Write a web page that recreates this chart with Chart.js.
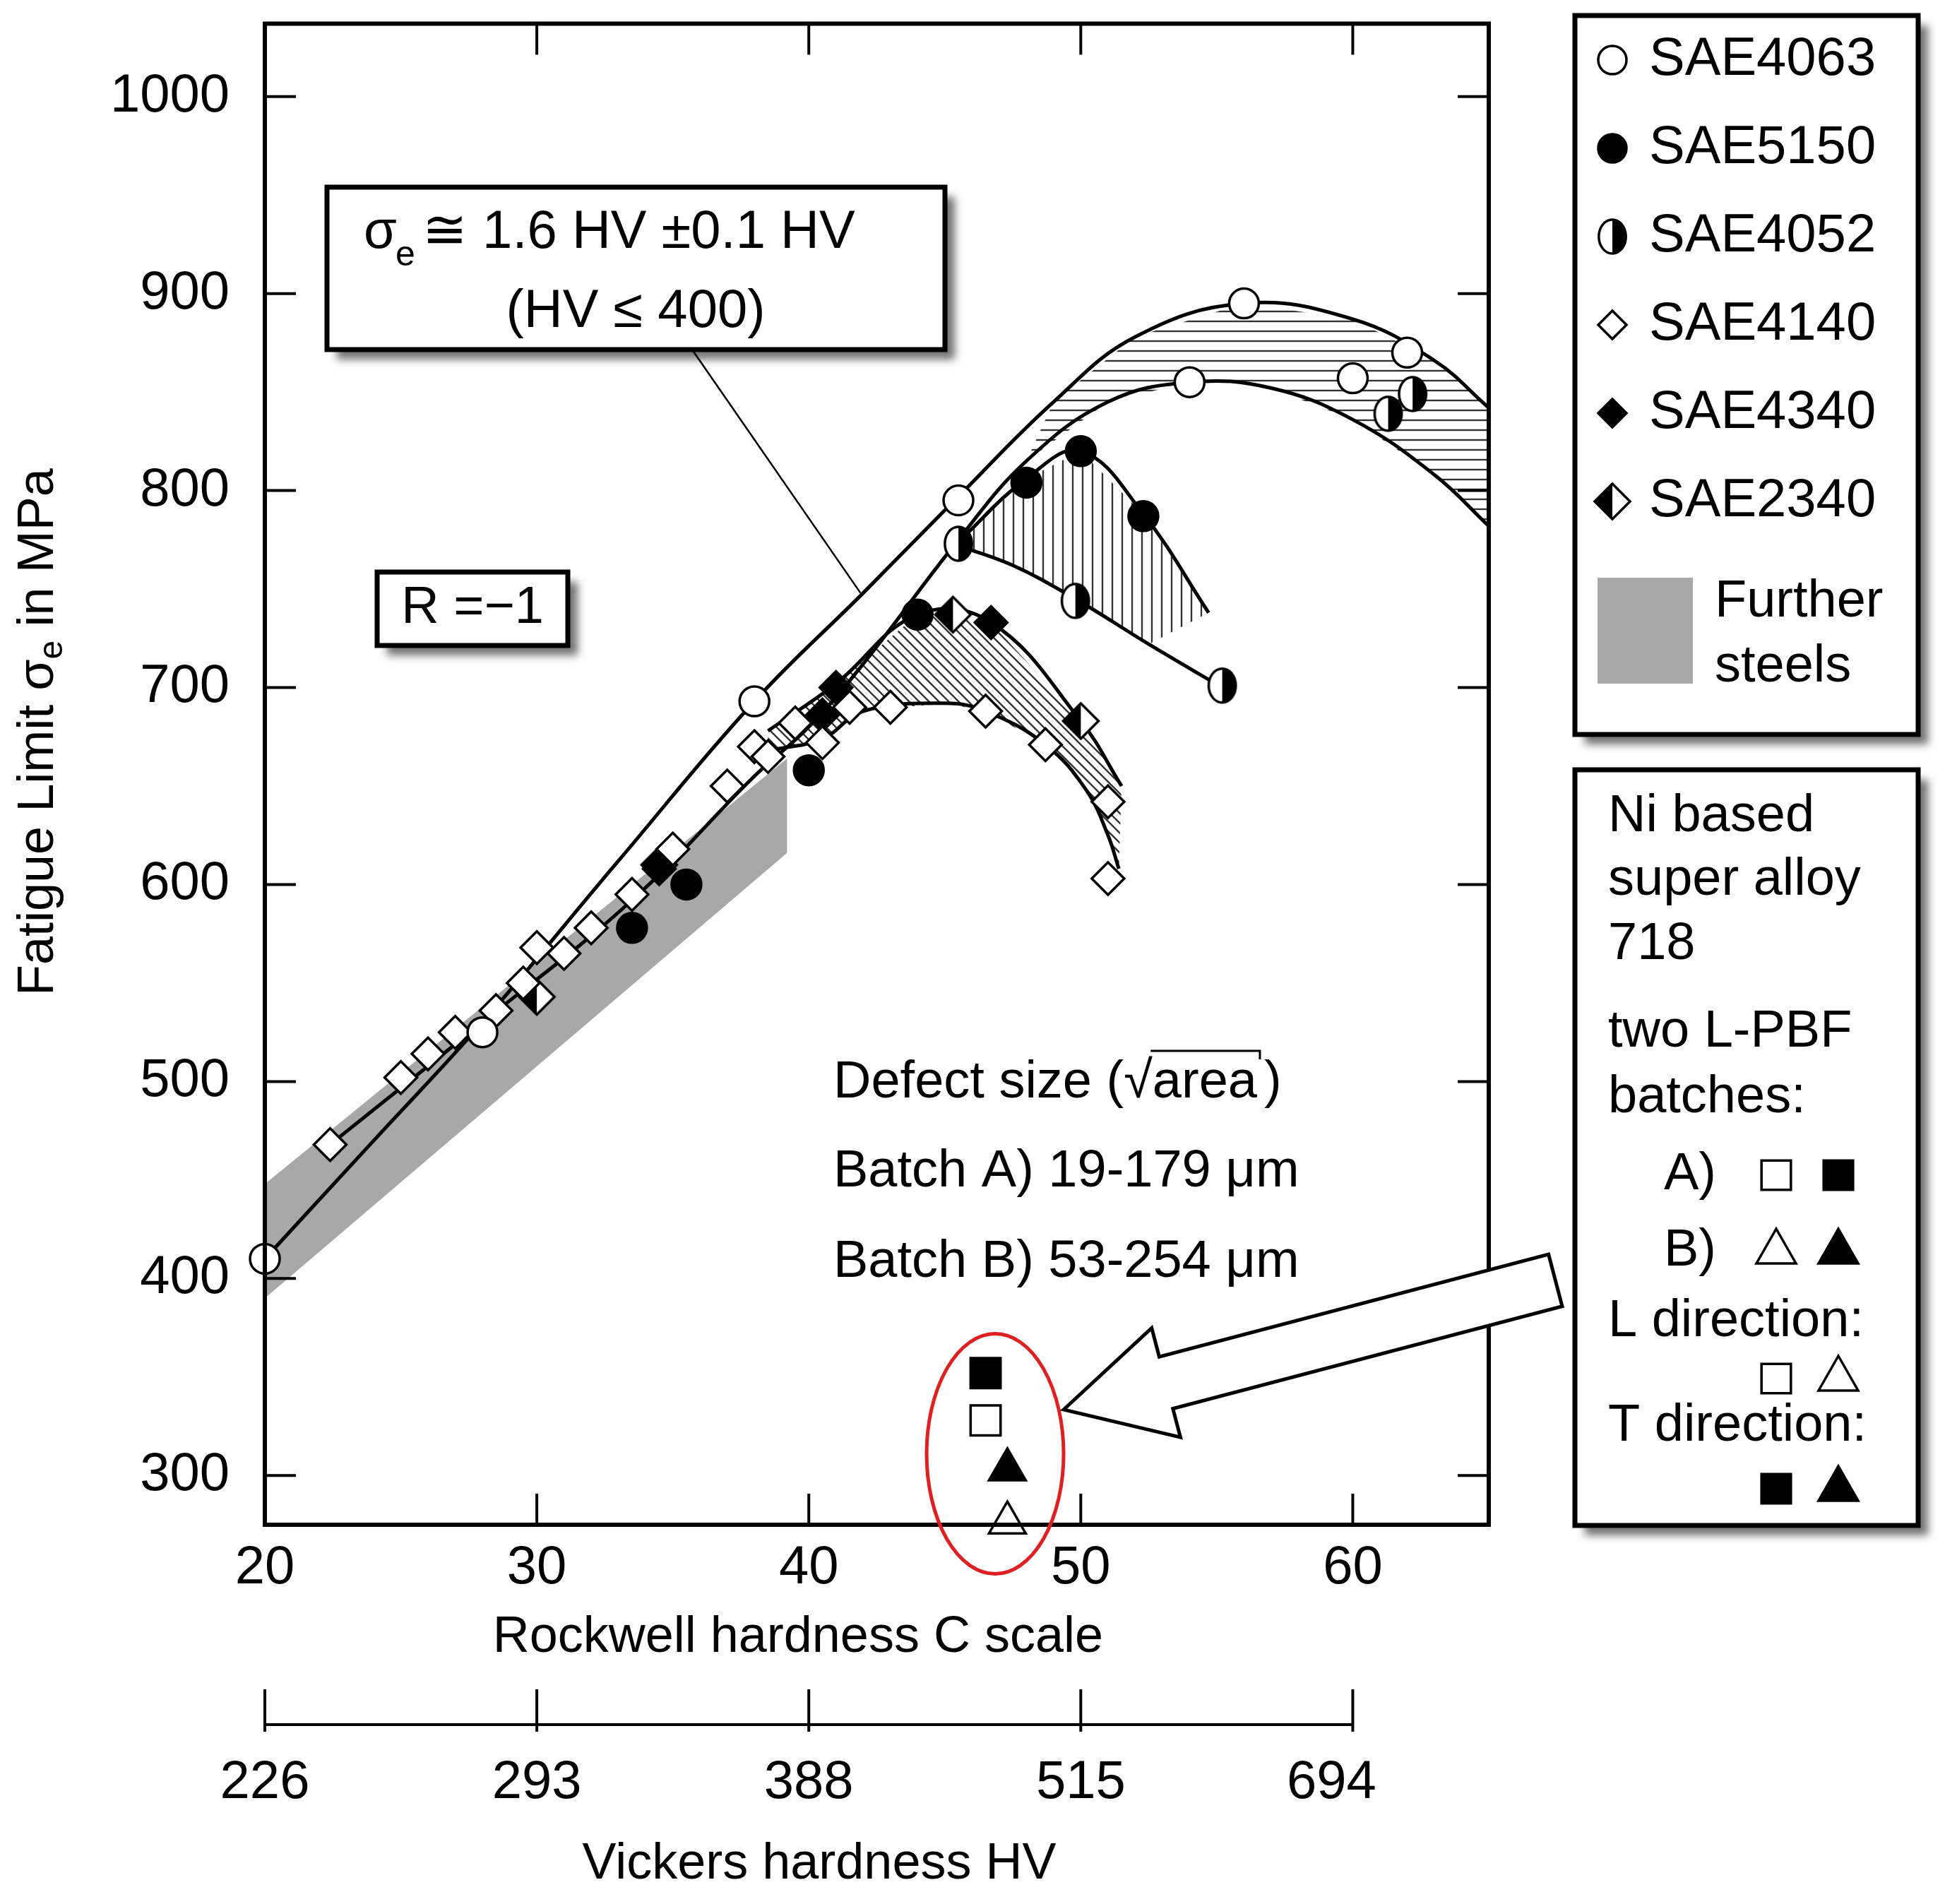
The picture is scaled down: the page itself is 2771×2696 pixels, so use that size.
<!DOCTYPE html>
<html>
<head>
<meta charset="utf-8">
<script src="https://cdn.jsdelivr.net/npm/chart.js@4.4.1/dist/chart.umd.min.js"></script>
<style>
  html, body { margin: 0; padding: 0; background: #fff; }
  canvas { display: block; }
</style>
</head>
<body>
<canvas id="chart" width="2771" height="2696"></canvas>
<script>
// ─── Data (HRC, fatigue limit MPa) ───────────────────────────────────────────
const SAE4063 = [[20,410],[28,525],[38,693],[45.5,795],[54,855],[56,895],[60,857],[62,870],[65.8,773]];
const SAE5150 = [[33.5,578],[35.5,600],[40,658],[44,737],[48,804],[50,820],[52.3,787]];
const SAE4052 = [[45.5,773],[49.8,744],[55.2,701],[61.3,839],[62.2,849]];
const SAE4140 = [[22.4,468],[25,502],[26,514],[27,525],[28.5,536],[29.5,550],[30,568],[31,565],[32,578],[33.5,595],
                 [35,618],[37,650],[38,670],[38.5,665],[39.5,682],[40.5,672],[41.5,690],[43,690],[46.5,688],[48.7,671],[51,642],[51,603]];
const SAE4340 = [[34.5,608],[40.5,686],[41,700],[46.7,733]];
const SAE2340 = [[30,543],[34.5,610],[45.3,737],[50,683]];

const NI_A_T = [[46.5,352]];   // batch A, T direction (filled square)
const NI_A_L = [[46.5,328]];   // batch A, L direction (open square)
const NI_B_T = [[47.3,303]];   // batch B, T direction (filled triangle)
const NI_B_L = [[47.3,276]];   // batch B, L direction (open triangle)

// trend curves
const CURVE_UPPER = [[20,410],[24,470],[28,530],[33,612],[38,693],[42,748],[45.5,797],[49,845],[52,878],[56,895],[60,887],[63,866],[65,842]];
const CURVE_LOWER = [[22.4,468],[28,530],[33.5,592],[38,655],[40,680],[42,712],[45.5,775],[48,815],[51,845],[54,855],[57,852],[60,836],[63,808],[65,782]];
const CURVE_4052  = [[45.5,772],[47.5,762],[49.8,745],[52.5,722],[55.2,700]];
const CURVE_5150  = [[45.5,774],[48,806],[50,820],[52.3,788],[54.7,738]];
const CURVE_4340  = [[38.5,678],[41,702],[44,737],[46.7,733],[50,683],[51.5,650]];
const CURVE_4140  = [[38.5,668],[40.5,674],[42,688],[45,692],[46.5,688],[48.7,671],[50.2,648],[51,625],[51.4,608]];
const FURTHER     = [[20,448],[39.2,664],[39.2,616],[20,390]];

const HRC_TICKS = [20, 30, 40, 50, 60];
const HV_LABELS = ['226', '293', '388', '515', '694'];
const MPA_TICKS = [300, 400, 500, 600, 700, 800, 900, 1000];

const FONT = '"Liberation Sans", Arial, sans-serif';
const pts = a => a.map(([x, y]) => ({ x, y }));

function slice(curve, x0, x1) { return curve.filter(p => p[0] >= x0 && p[0] <= x1); }
function band(top, bottom) { return pts(top.concat(bottom.slice().reverse())); }

function hatch(kind) {
    const c = document.createElement('canvas');
    c.width = c.height = 14;
    const g = c.getContext('2d');
    g.strokeStyle = '#333'; g.lineWidth = 2.4;
    g.beginPath();
    if (kind === 'h') { g.moveTo(0, 7); g.lineTo(14, 7); }
    else if (kind === 'v') { g.moveTo(7, 0); g.lineTo(7, 14); }
    else { g.moveTo(0, 0); g.lineTo(14, 14); g.moveTo(-7, 7); g.lineTo(7, 21); g.moveTo(7, -7); g.lineTo(21, 7); }
    g.stroke();
    return g.createPattern(c, 'repeat');
}

// half filled markers
function halfMarker(shape, r) {
    const s = 2 * r + 8, c = document.createElement('canvas');
    c.width = c.height = s;
    const g = c.getContext('2d'), m = s / 2;
    g.beginPath();
    if (shape === 'circle') g.ellipse(m, m, r * 0.8, r, 0, 0, Math.PI * 2);
    else { g.moveTo(m, m - r); g.lineTo(m + r, m); g.lineTo(m, m + r); g.lineTo(m - r, m); g.closePath(); }
    g.fillStyle = '#fff'; g.fill();
    g.save(); g.clip();
    g.fillStyle = '#000';
    if (shape === 'circle') g.fillRect(m, 0, m, s); else g.fillRect(0, 0, m, s);
    g.restore();
    g.lineWidth = 3.5; g.strokeStyle = '#000'; g.stroke();
    return c;
}
const HALF_CIRCLE = halfMarker('circle', 24);
const HALF_DIAMOND = halfMarker('diamond', 25);

function curve(data) {
    return { type: 'line', data: pts(data), borderColor: '#000', borderWidth: 5, pointRadius: 0,
             tension: 0.4, fill: false, order: 5 };
}
function bandSet(data, pattern) {
    return { type: 'line', data: data, borderWidth: 0, pointRadius: 0, tension: 0,
             fill: 'shape', backgroundColor: pattern, order: 8 };
}
function marks(data, style, fill, r) {
    return { type: 'scatter', data: pts(data), pointStyle: style, pointRadius: r || 20,
             backgroundColor: fill, borderColor: '#000', borderWidth: 3.5, order: 1 };
}

// ─── Decorations ─────────────────────────────────────────────────────────────
function box(ctx, x, y, w, h) {
    ctx.fillStyle = 'rgba(0,0,0,0.55)';
    ctx.filter = 'blur(6px)';
    ctx.fillRect(x + 14, y + 14, w, h);
    ctx.filter = 'none';
    ctx.fillStyle = '#fff';
    ctx.fillRect(x, y, w, h);
    ctx.lineWidth = 7; ctx.strokeStyle = '#000';
    ctx.strokeRect(x, y, w, h);
}
function text(ctx, s, x, y, size, align) {
    ctx.font = `${size}px ${FONT}`;
    ctx.fillStyle = '#000';
    ctx.textAlign = align || 'left';
    ctx.textBaseline = 'middle';
    ctx.fillText(s, x, y);
}
function marker(ctx, style, x, y, r, filled) {
    ctx.save();
    ctx.lineWidth = 3.5; ctx.strokeStyle = '#000'; ctx.fillStyle = filled ? '#000' : '#fff';
    if (style === 'halfCircle' || style === 'halfDiamond') {
        const c = style === 'halfCircle' ? HALF_CIRCLE : HALF_DIAMOND;
        ctx.drawImage(c, x - c.width / 2, y - c.height / 2);
        ctx.restore(); return;
    }
    ctx.beginPath();
    if (style === 'circle') ctx.arc(x, y, r, 0, Math.PI * 2);
    else if (style === 'diamond') { ctx.moveTo(x, y - r); ctx.lineTo(x + r, y); ctx.lineTo(x, y + r); ctx.lineTo(x - r, y); ctx.closePath(); }
    else if (style === 'square') ctx.rect(x - r * 0.8, y - r * 0.8, r * 1.6, r * 1.6);
    else { ctx.moveTo(x, y - r); ctx.lineTo(x + r, y + r * 0.75); ctx.lineTo(x - r, y + r * 0.75); ctx.closePath(); }
    ctx.fill(); ctx.stroke();
    ctx.restore();
}

const decorations = {
    id: 'decorations',
    afterDraw(chart) {
        const { ctx, chartArea: a, scales: { x, y } } = chart;
        ctx.save();
        // frame and inward ticks
        ctx.lineWidth = 6; ctx.strokeStyle = '#000';
        ctx.strokeRect(a.left, a.top, a.right - a.left, a.bottom - a.top);
        ctx.lineWidth = 4;
        ctx.beginPath();
        MPA_TICKS.forEach(v => { const py = y.getPixelForValue(v);
            ctx.moveTo(a.left, py); ctx.lineTo(a.left + 44, py); ctx.moveTo(a.right, py); ctx.lineTo(a.right - 44, py); });
        HRC_TICKS.forEach(v => { const px = x.getPixelForValue(v);
            ctx.moveTo(px, a.bottom); ctx.lineTo(px, a.bottom - 44); ctx.moveTo(px, a.top); ctx.lineTo(px, a.top + 44); });
        ctx.stroke();

        // tick labels and axis titles
        MPA_TICKS.forEach(v => text(ctx, String(v), a.left - 50, y.getPixelForValue(v), 76, 'right'));
        HRC_TICKS.forEach(v => text(ctx, String(v), x.getPixelForValue(v), a.bottom + 62, 76, 'center'));
        text(ctx, 'Rockwell hardness C scale', x.getPixelForValue(39.6), a.bottom + 160, 72, 'center');
        ctx.save();
        ctx.translate(55, 1000);
        ctx.rotate(-Math.PI / 2);
        text(ctx, 'Fatigue Limit σ', -410, 0, 72);
        const ws = ctx.measureText('Fatigue Limit σ').width;
        text(ctx, 'e', -410 + ws, 20, 48);
        text(ctx, ' in MPa', -410 + ws + 26, 0, 72);
        ctx.restore();

        // Vickers axis
        const vy = 2442;
        ctx.lineWidth = 4;
        ctx.beginPath();
        ctx.moveTo(x.getPixelForValue(20), vy); ctx.lineTo(x.getPixelForValue(60), vy);
        HRC_TICKS.forEach(v => { const px = x.getPixelForValue(v); ctx.moveTo(px, vy - 50); ctx.lineTo(px, vy + 10); });
        ctx.stroke();
        HRC_TICKS.forEach((v, i) => text(ctx, HV_LABELS[i], x.getPixelForValue(v) + (i === 4 ? -30 : 0), 2525, 76, 'center'));
        text(ctx, 'Vickers hardness HV', 1160, 2640, 72, 'center');

        // leader line of equation box
        ctx.lineWidth = 2.5;
        ctx.beginPath();
        ctx.moveTo(980, 495); ctx.lineTo(x.getPixelForValue(41.9), y.getPixelForValue(748));
        ctx.stroke();

        // equation box
        box(ctx, 463, 265, 875, 230);
        text(ctx, 'σ', 515, 330, 76);
        text(ctx, 'e', 560, 362, 50);
        text(ctx, '≅ 1.6 HV ±0.1 HV', 598, 330, 76);
        text(ctx, '(HV ≤ 400)', 900, 442, 76, 'center');

        // R = -1 box
        box(ctx, 534, 810, 270, 104);
        text(ctx, 'R =−1', 669, 862, 74, 'center');

        // defect text
        const dx = 1180;
        text(ctx, 'Defect size (', dx, 1534, 74);
        const w1 = ctx.measureText('Defect size (').width;
        text(ctx, '√area', dx + w1, 1534, 74);
        const w2 = ctx.measureText('√area').width;
        ctx.lineWidth = 3; ctx.beginPath();
        ctx.moveTo(dx + w1 + 38, 1488); ctx.lineTo(dx + w1 + w2 + 4, 1488); ctx.lineTo(dx + w1 + w2 + 4, 1500); ctx.stroke();
        text(ctx, ')', dx + w1 + w2 + 10, 1534, 74);
        text(ctx, 'Batch A) 19-179 μm', dx, 1660, 74);
        text(ctx, 'Batch B) 53-254 μm', dx, 1788, 74);

        // red ellipse
        ctx.lineWidth = 5; ctx.strokeStyle = '#e02020';
        ctx.beginPath();
        ctx.ellipse(x.getPixelForValue(46.85), y.getPixelForValue(311), 97, 170, 0, 0, Math.PI * 2);
        ctx.stroke();

        // hollow arrow, tip at ellipse
        ctx.save();
        ctx.translate(1506, 1996);
        ctx.rotate(Math.atan2(-182, 692));
        ctx.beginPath();
        ctx.moveTo(0, 0); ctx.lineTo(150, -80); ctx.lineTo(150, -38); ctx.lineTo(720, -38);
        ctx.lineTo(720, 38); ctx.lineTo(150, 38); ctx.lineTo(150, 80); ctx.closePath();
        ctx.fillStyle = '#fff'; ctx.fill();
        ctx.lineWidth = 5; ctx.strokeStyle = '#000'; ctx.stroke();
        ctx.restore();

        // legend box 1
        box(ctx, 2230, 22, 486, 1018);
        const leg = [['SAE4063', 'circle', false], ['SAE5150', 'circle', true], ['SAE4052', 'halfCircle'],
                     ['SAE4140', 'diamond', false], ['SAE4340', 'diamond', true], ['SAE2340', 'halfDiamond']];
        leg.forEach(([name, st, f], i) => {
            const ly = 85 + i * 125;
            marker(ctx, st, 2283, ly, 20, f);
            text(ctx, name, 2335, ly, 76);
        });
        ctx.fillStyle = '#a8a8a8';
        ctx.fillRect(2262, 818, 135, 150);
        text(ctx, 'Further', 2428, 853, 74);
        text(ctx, 'steels', 2428, 945, 74);

        // legend box 2
        box(ctx, 2230, 1090, 486, 1070);
        text(ctx, 'Ni based', 2277, 1157, 74);
        text(ctx, 'super alloy', 2277, 1247, 74);
        text(ctx, '718', 2277, 1338, 74);
        text(ctx, 'two L-PBF', 2277, 1462, 74);
        text(ctx, 'batches:', 2277, 1555, 74);
        text(ctx, 'A)', 2430, 1664, 74, 'right');
        marker(ctx, 'square', 2515, 1664, 26, false);
        marker(ctx, 'square', 2603, 1664, 26, true);
        text(ctx, 'B)', 2430, 1772, 74, 'right');
        marker(ctx, 'triangle', 2515, 1768, 28, false);
        marker(ctx, 'triangle', 2603, 1768, 28, true);
        text(ctx, 'L direction:', 2277, 1872, 74);
        marker(ctx, 'square', 2515, 1952, 26, false);
        marker(ctx, 'triangle', 2603, 1948, 28, false);
        text(ctx, 'T direction:', 2277, 2020, 74);
        marker(ctx, 'square', 2515, 2108, 26, true);
        marker(ctx, 'triangle', 2603, 2104, 28, true);
        ctx.restore();
    }
};

// ─── Chart ───────────────────────────────────────────────────────────────────
new Chart(document.getElementById('chart').getContext('2d'), {
    type: 'scatter',
    data: {
        datasets: [
            { type: 'line', data: pts(FURTHER), borderWidth: 0, pointRadius: 0, tension: 0,
              fill: 'shape', backgroundColor: '#a8a8a8', order: 9 },
            bandSet(band(slice(CURVE_UPPER, 48, 65), slice(CURVE_LOWER, 48, 65)), hatch('h')),
            bandSet(band(CURVE_5150, CURVE_4052.filter(p => p[0] <= 54.7)), hatch('v')),
            bandSet(band(CURVE_4340, CURVE_4140.filter(p => p[0] <= 51.4)), hatch('d')),
            curve(CURVE_UPPER), curve(CURVE_LOWER), curve(CURVE_4052), curve(CURVE_5150),
            curve(CURVE_4340), curve(CURVE_4140),
            marks(SAE4063, 'circle', '#fff', 21),
            marks(SAE5150, 'circle', '#000', 21),
            marks(SAE4052, HALF_CIRCLE, '#fff'),
            marks(SAE4140, 'rectRot', '#fff', 23),
            marks(SAE4340, 'rectRot', '#000', 23),
            marks(SAE2340, HALF_DIAMOND, '#fff'),
            marks(NI_A_T, 'rect', '#000', 30),
            marks(NI_A_L, 'rect', '#fff', 30),
            marks(NI_B_T, 'triangle', '#000', 30),
            marks(NI_B_L, 'triangle', '#fff', 30),
        ]
    },
    options: {
        responsive: false,
        animation: false,
        layout: { padding: { left: 375, top: 32, right: 663, bottom: 537 } },
        plugins: { legend: { display: false }, tooltip: { enabled: false } },
        elements: { point: { hitRadius: 0 } },
        clip: false,
        scales: {
            x: { type: 'linear', min: 20, max: 65, display: false },
            y: { type: 'linear', min: 275, max: 1037, display: false }
        }
    },
    plugins: [decorations]
});
</script>
</body>
</html>
